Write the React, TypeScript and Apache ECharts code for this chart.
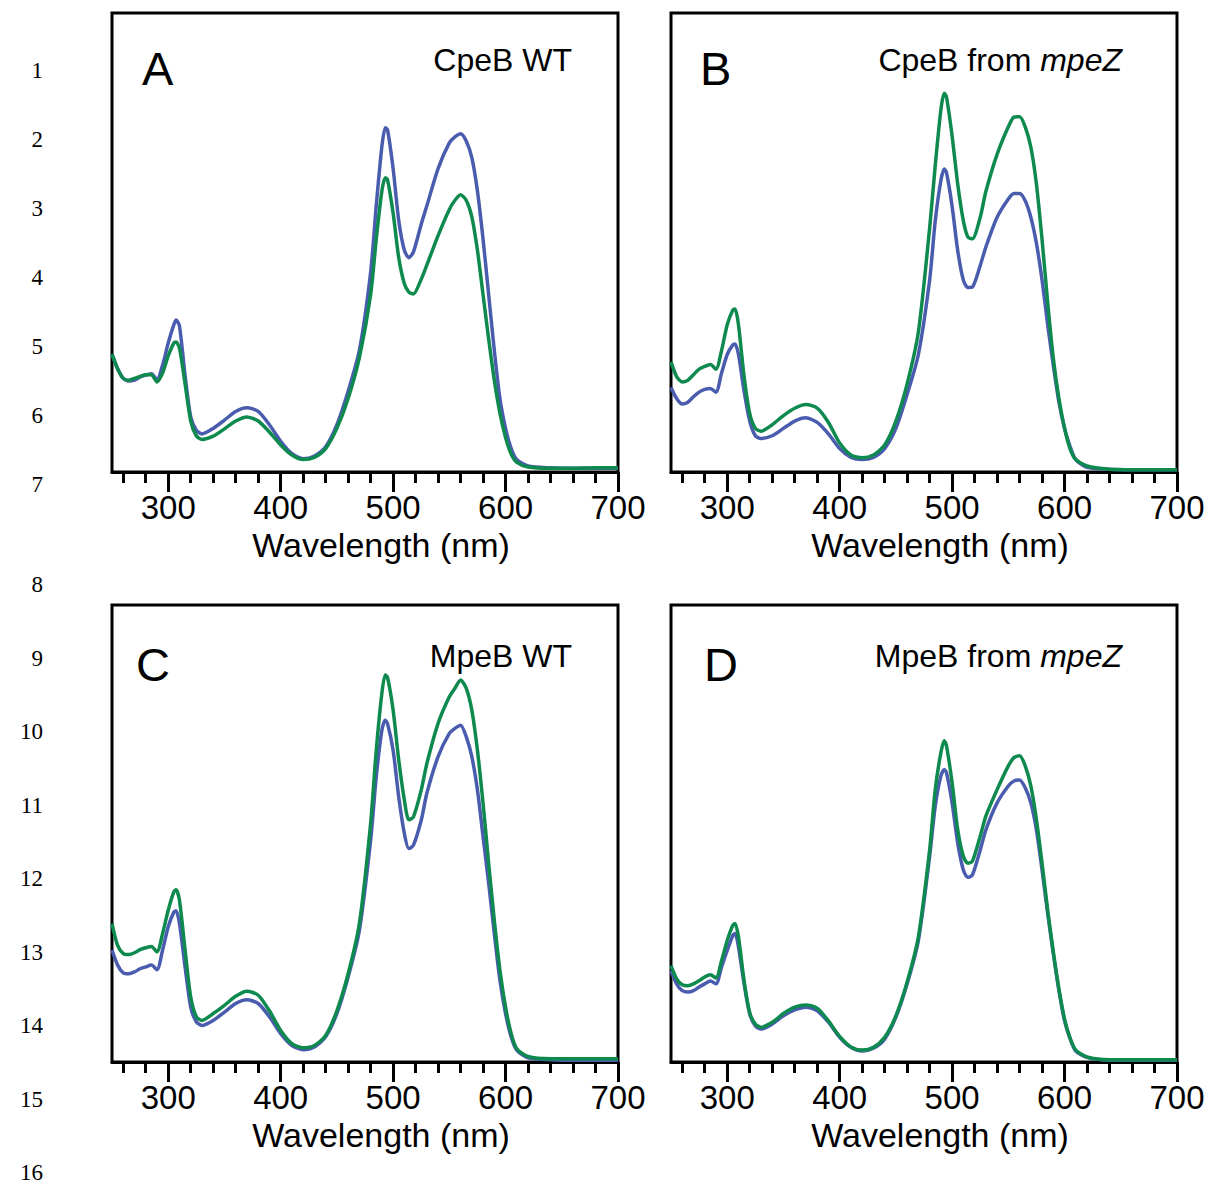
import React, { useEffect, useRef } from "react";
import * as echarts from "echarts";

const W = [250,255,260,265,270,275,280,285,290,295,300,305,307,310,315,320,325,330,340,350,360,370,380,390,400,410,420,430,440,450,460,470,480,485,490,493,495,500,505,510,514,518,525,530,540,550,555,560,565,570,575,580,585,590,595,600,605,610,620,640,660,680,700];

const aBlue = [.257,.225,.204,.198,.200,.207,.211,.214,.201,.233,.281,.321,.331,.318,.210,.120,.091,.083,.095,.113,.132,.140,.132,.103,.067,.040,.029,.035,.055,.103,.176,.265,.435,.580,.709,.750,.746,.661,.548,.483,.467,.479,.540,.580,.661,.717,.730,.737,.721,.685,.612,.507,.386,.265,.160,.095,.051,.027,.013,.009,.008,.008,.008];
const aGreen = [.257,.225,.204,.200,.204,.208,.212,.212,.196,.216,.253,.281,.283,.270,.192,.111,.079,.071,.078,.094,.111,.120,.111,.087,.059,.037,.027,.032,.051,.095,.160,.249,.386,.507,.612,.641,.637,.564,.467,.410,.392,.388,.420,.451,.515,.572,.592,.604,.592,.556,.483,.386,.289,.200,.128,.075,.039,.021,.011,.008,.008,.009,.009];

const bBlue = [.184,.160,.148,.152,.164,.174,.180,.182,.174,.216,.256,.277,.279,.256,.176,.111,.079,.073,.079,.095,.111,.118,.108,.083,.051,.032,.027,.032,.051,.095,.169,.256,.418,.547,.635,.660,.652,.579,.482,.418,.402,.403,.450,.490,.555,.595,.607,.607,.591,.555,.498,.418,.321,.232,.152,.095,.055,.027,.010,.006,.005,.005,.005];
const bGreen = [.240,.208,.196,.200,.212,.224,.230,.234,.224,.265,.321,.353,.355,.321,.208,.127,.095,.089,.103,.123,.139,.147,.139,.108,.063,.037,.031,.037,.059,.111,.192,.305,.531,.668,.789,.825,.817,.732,.627,.547,.512,.508,.555,.611,.692,.752,.773,.774,.752,.708,.627,.506,.369,.248,.160,.095,.050,.027,.013,.006,.005,.005,.005];

const cBlue = [.245,.212,.195,.193,.197,.204,.208,.212,.202,.245,.296,.328,.331,.303,.208,.120,.088,.080,.091,.109,.128,.136,.128,.099,.062,.036,.027,.033,.055,.106,.186,.288,.485,.624,.726,.748,.741,.682,.580,.500,.467,.474,.529,.588,.668,.719,.730,.737,.712,.668,.595,.493,.391,.281,.179,.106,.055,.026,.009,.005,.004,.004,.004];
const cGreen = [.303,.255,.237,.235,.239,.246,.250,.253,.241,.281,.332,.372,.377,.354,.245,.142,.099,.091,.106,.124,.144,.155,.146,.112,.069,.040,.031,.036,.058,.112,.193,.303,.522,.682,.807,.847,.842,.770,.661,.573,.530,.536,.595,.653,.741,.799,.818,.836,.818,.770,.682,.566,.434,.310,.201,.120,.062,.029,.012,.007,.007,.007,.007];

const dBlue = [.200,.171,.156,.153,.156,.164,.171,.177,.171,.208,.244,.277,.281,.252,.171,.105,.079,.072,.083,.101,.114,.120,.112,.087,.054,.032,.024,.030,.050,.098,.171,.266,.450,.560,.626,.640,.633,.567,.479,.420,.404,.409,.464,.508,.567,.604,.615,.617,.600,.567,.508,.420,.325,.237,.156,.090,.050,.024,.010,.004,.004,.004,.004];
const dGreen = [.211,.182,.169,.167,.171,.178,.186,.191,.184,.222,.266,.299,.303,.274,.178,.108,.083,.076,.087,.106,.120,.125,.118,.090,.056,.033,.026,.032,.054,.101,.175,.274,.464,.596,.677,.703,.692,.611,.508,.450,.435,.439,.494,.538,.596,.648,.666,.670,.648,.604,.530,.435,.332,.241,.160,.094,.052,.026,.011,.005,.005,.005,.005];

const majorTicks = [300, 400, 500, 600, 700];
const minorTicks = [260, 280, 320, 340, 360, 380, 420, 440, 460, 480, 520, 540, 560, 580, 620, 640, 660, 680];

const panelLetters = ["A", "B", "C", "D"];
const panelTitles = ["CpeB WT", "CpeB from {i|mpeZ}", "MpeB WT", "MpeB from {i|mpeZ}"];
const lineNumbers = ["1","2","3","4","5","6","7","8","9","10","11","12","13","14","15","16"];
const lineNumberY = [70,139,208,277,346,415,484,584,658,731,805,878,952,1025,1099,1172];

const axisName = "Wavelength (nm)";
const BLUE = "#4a5cae";
const GREEN = "#0e8a4f";
const SANS = "Liberation Sans";

const panels = [
  { blue: aBlue, green: aGreen },
  { blue: bBlue, green: bGreen },
  { blue: cBlue, green: cGreen },
  { blue: dBlue, green: dGreen },
];

const gridBoxes = [
  { left: 112, top: 13, width: 506, height: 459 },
  { left: 671, top: 13, width: 506, height: 459 },
  { left: 112, top: 605, width: 506, height: 457 },
  { left: 671, top: 605, width: 506, height: 457 },
];
const letterPos = [
  { x: 142, y: 68 },
  { x: 700, y: 68 },
  { x: 136, y: 664 },
  { x: 704, y: 664 },
];
const titlePos = [
  { x: 572, y: 60 },
  { x: 1122, y: 60 },
  { x: 572, y: 656 },
  { x: 1122, y: 656 },
];

function pairs(arr: number[]) {
  return W.map((w, i) => [w, arr[i]]);
}

export default function App() {
  const ref = useRef<HTMLDivElement>(null);
  useEffect(() => {
    if (!ref.current) return;
    const chart = echarts.init(ref.current, undefined, { renderer: "svg" });
    const grid: any[] = [];
    const xAxis: any[] = [];
    const yAxis: any[] = [];
    const series: any[] = [];
    const graphic: any[] = [];
    gridBoxes.forEach((g, i) => {
      grid.push({ ...g, show: true, borderColor: "#000", borderWidth: 3, backgroundColor: "transparent" });
      xAxis.push({
        type: "value", gridIndex: i, min: 250, max: 700,
        axisLine: { show: true, lineStyle: { color: "#000", width: 3 } },
        axisTick: { show: true, length: 20, lineStyle: { color: "#000", width: 3 }, customValues: majorTicks },
        axisLabel: { show: true, customValues: majorTicks, fontSize: 33, color: "#000", fontFamily: SANS, margin: 19 },
        splitLine: { show: false },
        name: axisName, nameLocation: "middle", nameGap: 56,
        nameTextStyle: { fontSize: 34, color: "#000", fontFamily: SANS, padding: [0, 0, 0, 32] },
      });
      xAxis.push({
        type: "value", gridIndex: i, min: 250, max: 700, position: "bottom",
        axisLine: { show: false },
        axisTick: { show: true, length: 11, lineStyle: { color: "#000", width: 3 }, customValues: minorTicks },
        axisLabel: { show: false },
        splitLine: { show: false },
      });
      yAxis.push({ type: "value", gridIndex: i, min: 0, max: 1, show: false, splitLine: { show: false } });
      const p = panels[i];
      series.push({
        type: "line", xAxisIndex: 2 * i, yAxisIndex: i, data: pairs(p.blue),
        showSymbol: false, smooth: 0.25, lineStyle: { color: BLUE, width: 3.5 }, itemStyle: { color: BLUE },
      });
      series.push({
        type: "line", xAxisIndex: 2 * i, yAxisIndex: i, data: pairs(p.green),
        showSymbol: false, smooth: 0.25, lineStyle: { color: GREEN, width: 3.5 }, itemStyle: { color: GREEN },
      });
      graphic.push({
        type: "text", x: letterPos[i].x, y: letterPos[i].y,
        style: { text: panelLetters[i], fontSize: 47, fontFamily: SANS, fill: "#000", align: "left", verticalAlign: "middle", textAlign: "left", textVerticalAlign: "middle" },
      });
      graphic.push({
        type: "text", x: titlePos[i].x, y: titlePos[i].y,
        style: {
          text: panelTitles[i], fontSize: 32, fontFamily: SANS, fill: "#000",
          align: "right", verticalAlign: "middle", textAlign: "right", textVerticalAlign: "middle",
          rich: { i: { fontStyle: "italic", fontSize: 32, fontFamily: SANS, fill: "#000" } },
        },
      });
    });
    lineNumbers.forEach((n, i) => {
      graphic.push({
        type: "text", x: 43, y: lineNumberY[i],
        style: { text: n, fontSize: 23, fontFamily: "Liberation Serif", fill: "#000", align: "right", verticalAlign: "middle", textAlign: "right", textVerticalAlign: "middle" },
      });
    });
    chart.setOption({ animation: false, backgroundColor: "#fff", grid, xAxis, yAxis, series, graphic });
    return () => chart.dispose();
  }, []);
  return <div ref={ref} style={{ position: "absolute", left: 0, top: 0, width: 1210, height: 1184 }} />;
}
